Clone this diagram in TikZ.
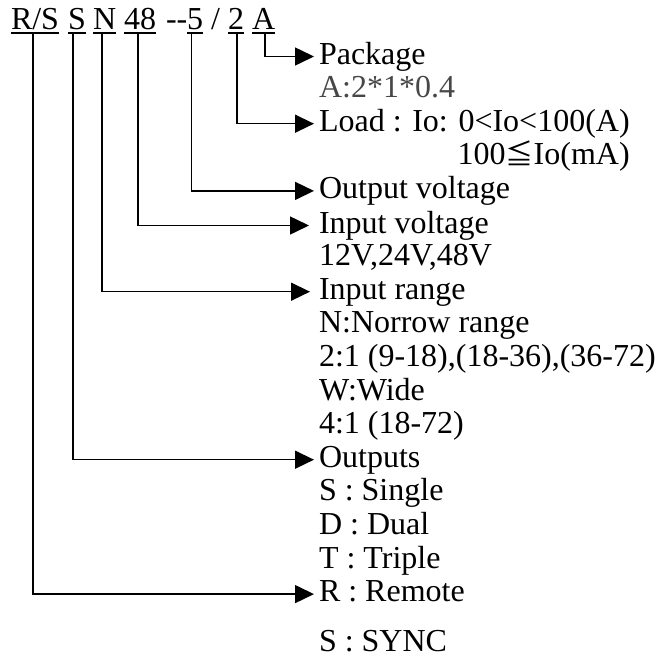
\documentclass[tikz,border=0pt]{standalone}
\usepackage{fontspec}
\setmainfont{Liberation Serif}
\newfontfamily\cjkfont{Noto Sans CJK TC}
\usetikzlibrary{arrows.meta,calc}
\begin{document}
\begin{tikzpicture}[x=1pt,y=-1pt,
  every node/.style={inner sep=0pt, outer sep=0pt, font=\fontsize{32}{36}\selectfont},
  code/.style={anchor=base west, text depth=3.5pt},
  lbl/.style={anchor=base west, text height=22pt, text depth=7pt},
  conn/.style={line width=1.5pt, -{Triangle[length=19pt,width=18pt]}, shorten >=5pt},
  uline/.style={line width=1.5pt}]
\useasboundingbox (0,0) rectangle (672,659);
% code row
\node[code] (tRS) at (11,29.5) {R/S};
\node[code] (tS) at (68,29.5) {S};
\node[code] (tN) at (93,29.5) {N};
\node[code] (t48) at (124,29.5) {48};
\node[code] (tdash) at (166,29.5) {-\kern0pt-};
\node[code] (t5) at (187,29.5) {5};
\node[code] (tsl) at (211,29.5) {/};
\node[code] (t2) at (228,29.5) {2};
\node[code] (tA) at (252,29.5) {A};
\foreach \n in {tRS,tS,tN,t48,t5,t2,tA}
  \draw[uline] (\n.south west) -- (\n.south east);
% labels
\def\lx{319}
\node[lbl] (pkg) at (\lx,64) {Package};
\node[lbl, text=black!72] (pkga) at (\lx,97.6) {A:2*1*0.4};
\node[lbl] (load) at (\lx,131.2) {Load : Io: 0<Io<100(A)};
\node[lbl, anchor=base east] (load2) at ($(load.base east)+(0,33.6)$) {100{\cjkfont\fontsize{28}{30}\selectfont ≦}Io(mA)};
\node[lbl] (ov) at (\lx,198.4) {Output voltage};
\node[lbl] (iv) at (\lx,233) {Input voltage};
\node[lbl] (iv2) at (\lx,265.6) {12V,24V,48V};
\node[lbl] (ir) at (\lx,299.2) {Input range};
\node[lbl] (ir1) at (\lx,332.8) {N:Norrow range};
\node[lbl] (ir2) at (\lx,366.4) {2:1 (9-18),(18-36),(36-72)};
\node[lbl] (ir3) at (\lx,400) {W:Wide};
\node[lbl] (ir4) at (\lx,433.6) {4:1 (18-72)};
\node[lbl] (out) at (\lx,467.2) {Outputs};
\node[lbl] (out1) at (\lx,500.8) {S : Single};
\node[lbl] (out2) at (\lx,534.4) {D : Dual};
\node[lbl] (out3) at (\lx,568) {T : Triple};
\node[lbl] (rem) at (\lx,601.6) {R : Remote};
\node[lbl] (sync) at (\lx,651) {S : SYNC};
% connectors
\draw[conn] ([xshift=1.5pt]tA.south) |- (pkg.west);
\draw[conn] ([xshift=1pt]t2.south) |- (load.west);
\draw[conn] ([xshift=-3.5pt]t5.south) |- (ov.west);
\draw[conn, shorten >=10pt] ([xshift=-2pt]t48.south) |- (iv.west);
\draw[conn, shorten >=9pt] ([xshift=-2.5pt]tN.south) |- (ir.west);
\draw[conn] ([xshift=-4pt]tS.south) |- (out.west);
\draw[conn] ([xshift=-2pt]tRS.south) |- (rem.west);
\end{tikzpicture}
\end{document}
